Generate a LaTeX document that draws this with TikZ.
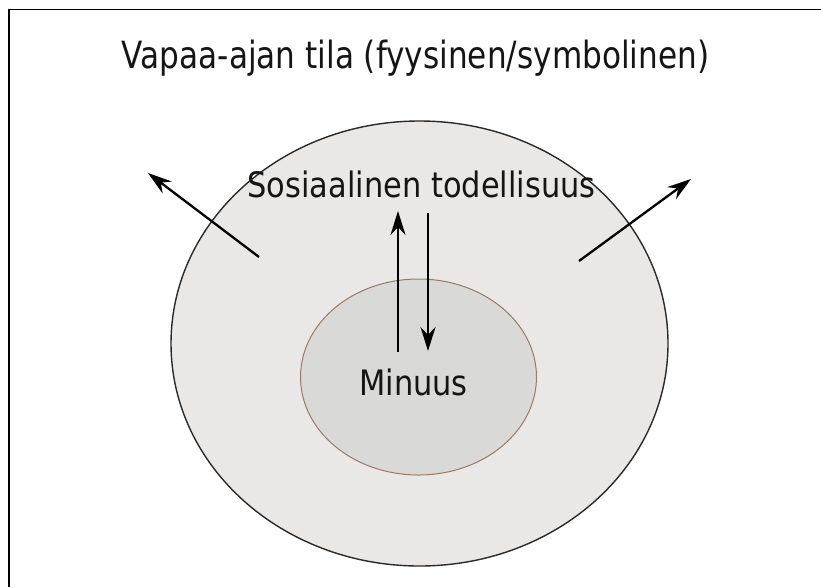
\documentclass[tikz,border=0pt]{standalone}
\usepackage{fontspec}
\setmainfont{DejaVu Sans}[FakeStretch=0.87]
\newfontfamily\titlefont{DejaVu Sans}[FakeStretch=0.83]
\usetikzlibrary{shapes.geometric,arrows.meta}
\definecolor{outerfill}{HTML}{E9E8E7}
\definecolor{innerfill}{HTML}{D9D9D8}
\definecolor{innerline}{HTML}{9A7A66}
\definecolor{outerline}{HTML}{2A2A2A}
\definecolor{txt}{HTML}{151515}
\tikzset{
  lbl/.style={anchor=base, inner sep=0pt, font=\fontsize{35}{40}\selectfont, text=txt},
  arr/.style={line width=2.3pt, -{Stealth[length=24pt,width=15pt,inset=8pt]}},
  framerule/.style={line width=1.6pt}
}
\begin{document}
\begin{tikzpicture}[x=1pt,y=-1pt]
\useasboundingbox (0,0) rectangle (821,587);
\fill[white] (0,0) rectangle (821,587);
% frame (top and left only)
\coordinate (fa) at (9,587);
\coordinate (fb) at (9,9.5);
\coordinate (fc) at (821,9.5);
\draw[framerule] (fa) -- (fb) -- (fc);
% ellipses
\node[ellipse, draw=outerline, line width=1.4pt, fill=outerfill, minimum width=497pt, minimum height=445pt, inner sep=0pt] (outer) at (419.5,343.5) {};
\node[ellipse, draw=innerline, line width=1pt, fill=innerfill, minimum width=236pt, minimum height=196pt, inner sep=0pt] (inner) at (418.5,377) {};
% texts
\node[lbl, font=\titlefont\fontsize{37.5}{42}\selectfont] (title) at (415.5,68) {Vapaa-ajan tila (fyysinen/symbolinen)};
\node[lbl] (social) at (421.5,197) {Sosiaalinen todellisuus};
\node[lbl] (self) at (413.5,395) {Minuus};
% arrows
\coordinate (la) at (259,257);
\coordinate (lb) at (148,173);
\coordinate (ra) at (579,261);
\coordinate (rb) at (691,179);
\coordinate (ua) at (398,352);
\coordinate (ub) at (398,211);
\coordinate (da) at (428,213);
\coordinate (db) at (428,351);
\draw[arr] (la) -- (lb);
\draw[arr] (ra) -- (rb);
\draw[arr] (ua) -- (ub);
\draw[arr] (da) -- (db);
\end{tikzpicture}
\end{document}
